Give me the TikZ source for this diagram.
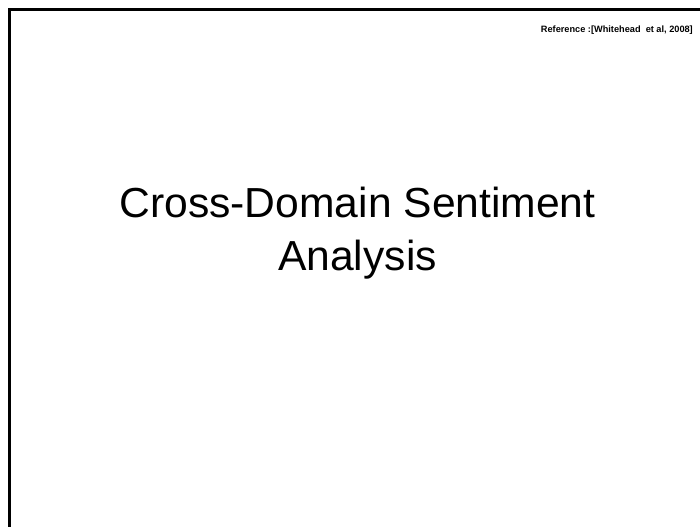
\documentclass[tikz,border=0pt]{standalone}
\usepackage{fontspec}
\setmainfont{Liberation Sans}
\begin{document}
\begin{tikzpicture}[x=1pt,y=-1pt,
  frame/.style={line width=3pt,line cap=butt},
  title/.style={font=\fontsize{42}{53}\selectfont,anchor=base,inner sep=0pt,xscale=1.015},
  refnote/.style={font=\bfseries\fontsize{9.2}{11}\selectfont,anchor=base east,inner sep=0pt}]
  \useasboundingbox[fill=white] (0,0) rectangle (700,527);
  % slide frame: top and left edges
  \coordinate (tl) at (9.5,9.5);
  \coordinate (tr) at (700,9.5);
  \coordinate (bl) at (9.5,527);
  \draw[frame] (tr) -- (tl) -- (bl);
  % citation in the top right corner
  \node[refnote] (ref) at (693,33) {Reference :[Whitehead\ \ et al, 2008]};
  % two-line slide title
  \node[title] (ttl1) at (357.5,217) {Cross-Domain Sentiment};
  \node[title] (ttl2) at (357.5,270) {Analysis};
\end{tikzpicture}
\end{document}
